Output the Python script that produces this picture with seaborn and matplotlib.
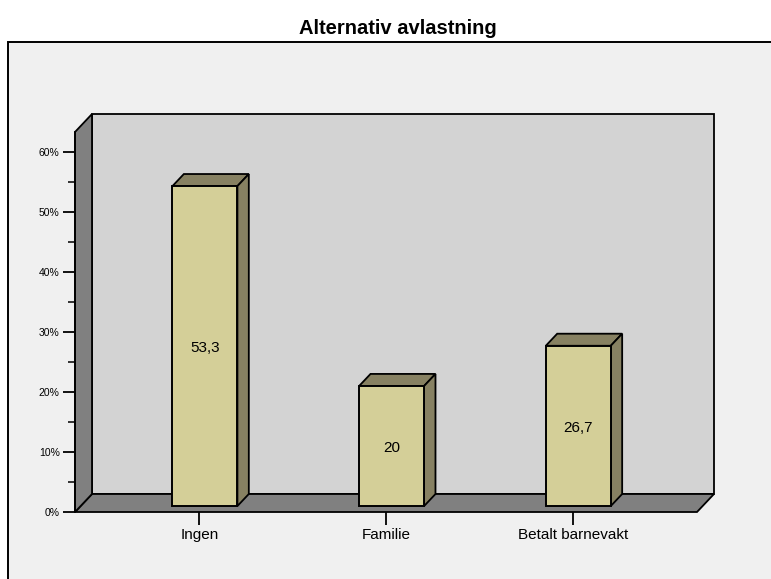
import matplotlib
matplotlib.use("Agg")
import matplotlib.pyplot as plt
from matplotlib.patches import Polygon, Rectangle
from matplotlib.ticker import MultipleLocator, FuncFormatter
import seaborn as sns
import pandas as pd

# Data
categories = ["Ingen", "Familie", "Betalt barnevakt"]
percent = [53.3, 20.0, 26.7]
title = "Alternativ avlastning"

plt.rcParams["font.family"] = ["Liberation Sans", "DejaVu Sans"]

W, H = 771, 579
fig = plt.figure(figsize=(W / 100, H / 100), dpi=100)
fig.patch.set_facecolor("white")

# Background layer with the outer chart frame
bg = fig.add_axes([0, 0, 1, 1], zorder=0)
bg.set_axis_off()
bg.set_xlim(0, W)
bg.set_ylim(H, 0)
bg.add_patch(Rectangle((8, 42), W + 20, H + 20, facecolor="#F0F0F0",
                       edgecolor="black", linewidth=1.4))
bg.text(398, 28, title, ha="center", va="center",
        fontsize=14.5, fontweight="bold")

# Axes occupy the front plane of the 3D box
ax = fig.add_axes([75 / W, (H - 512) / H, 622 / W, 380 / H], zorder=1)
ax.set_facecolor("none")

YMAX = 63.3
XL, XR = -0.666, 2.666
DX, DY = 0.0911, 3.0          # full depth offset in data units
T0 = 0.33                     # depth of bar front faces
BW = 0.348                    # bar width

df = pd.DataFrame({"kategori": categories, "prosent": percent})
sns.barplot(data=df, x="kategori", y="prosent", ax=ax, color="#D4CF98",
            saturation=1, width=BW, edgecolor="black", linewidth=1.4,
            zorder=5)

kw = dict(clip_on=False, edgecolor="black", linewidth=1.3, joinstyle="miter")
# back wall
ax.add_patch(Polygon([(XL + DX, DY), (XR + DX, DY), (XR + DX, YMAX + DY),
                      (XL + DX, YMAX + DY)], facecolor="#D3D3D3", zorder=1, **kw))
# floor
ax.add_patch(Polygon([(XL, 0), (XR, 0), (XR + DX, DY), (XL + DX, DY)],
                     facecolor="#808080", zorder=1.5, **kw))
# left wall
ax.add_patch(Polygon([(XL, 0), (XL + DX, DY), (XL + DX, YMAX + DY), (XL, YMAX)],
                     facecolor="#808080", zorder=1.6, **kw))

shade = "#878162"
d = 1 - T0
for bar, v in zip(ax.patches[:len(categories)], percent):
    bar.set_x(bar.get_x() + T0 * DX)
    bar.set_y(T0 * DY)
    bar.set_clip_on(False)
    x0 = bar.get_x()
    x1 = x0 + bar.get_width()
    y0 = bar.get_y()
    y1 = y0 + bar.get_height()
    ax.add_patch(Polygon([(x0, y1), (x1, y1), (x1 + d * DX, y1 + d * DY),
                          (x0 + d * DX, y1 + d * DY)], facecolor=shade,
                         zorder=4, **kw))
    ax.add_patch(Polygon([(x1, y0), (x1 + d * DX, y0 + d * DY),
                          (x1 + d * DX, y1 + d * DY), (x1, y1)],
                         facecolor=shade, zorder=4, **kw))
    ax.text((x0 + x1) / 2, (y0 + y1) / 2 - 0.3, f"{v:g}".replace(".", ","),
            ha="center", va="center", fontsize=11, zorder=6)

ax.set_xlim(XL, XR)
ax.set_ylim(0, YMAX)
ax.set_xlabel("")
ax.set_ylabel("")
for s in ["top", "right", "bottom"]:
    ax.spines[s].set_visible(False)
ax.spines["left"].set_linewidth(1.3)
ax.spines["left"].set_zorder(2)

ax.yaxis.set_major_locator(MultipleLocator(10))
ax.yaxis.set_minor_locator(MultipleLocator(5))
ax.yaxis.set_major_formatter(FuncFormatter(lambda v, p: f"{v:.0f}%"))
ax.tick_params(axis="y", which="major", length=9, width=1.3, labelsize=7.5, pad=2)
ax.tick_params(axis="y", which="minor", length=5, width=1.1)
ax.set_xticks(range(len(categories)))
ax.set_xticklabels(categories)
ax.tick_params(axis="x", length=9, width=1.3, labelsize=11, pad=2.5)

fig.savefig("out.png", dpi=100)
